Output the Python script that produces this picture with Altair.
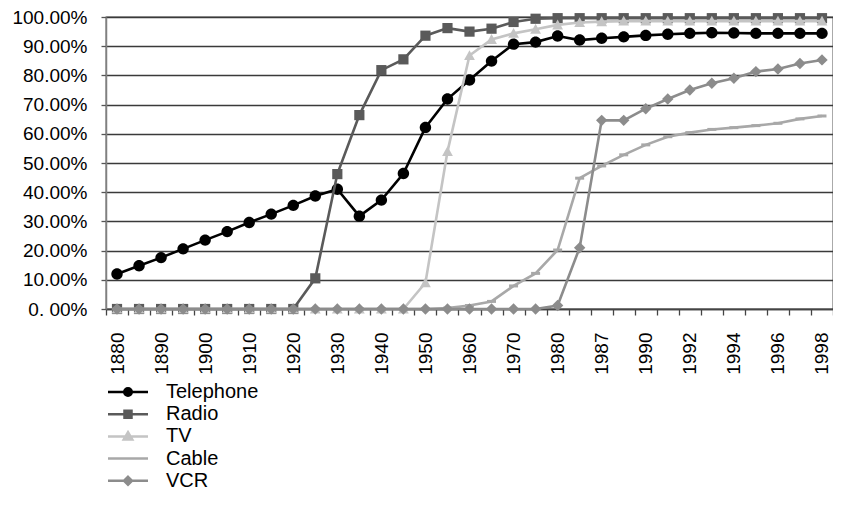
import altair as alt
import pandas as pd

# ---------------- data ----------------
categories = ["1880", "1885", "1890", "1895", "1900", "1905", "1910", "1915", "1920",
              "1925", "1930", "1935", "1940", "1945", "1950", "1955", "1960", "1965",
              "1970", "1975", "1980", "1985", "1987", "1988", "1990", "1991", "1992",
              "1993", "1994", "1995", "1996", "1997", "1998"]
shown_labels = ["1880", "1890", "1900", "1910", "1920", "1930", "1940", "1950", "1960",
                "1970", "1980", "1987", "1990", "1992", "1994", "1996", "1998"]
y_ticks = [0.0, 0.1, 0.2, 0.3, 0.4, 0.5, 0.6, 0.7, 0.8, 0.9, 1.0]

series_names = ["Telephone", "Radio", "TV", "Cable", "VCR"]

telephone = [12.0, 14.8, 17.6, 20.6, 23.6, 26.5, 29.6, 32.5, 35.5, 38.7, 41.0, 31.8,
             37.3, 46.4, 62.2, 71.9, 78.4, 84.9, 90.7, 91.4, 93.5, 92.1, 92.7, 93.2,
             93.7, 94.1, 94.4, 94.6, 94.5, 94.4, 94.4, 94.4, 94.4]
radio = [0, 0, 0, 0, 0, 0, 0, 0, 0,
         10.5, 46.2, 66.4, 81.8, 85.5, 93.6, 96.2, 95.0, 96.0, 98.3, 99.4, 99.6,
         99.6, 99.6, 99.6, 99.6, 99.6, 99.6, 99.6, 99.6, 99.6, 99.6, 99.6, 99.6]
tv = [0, 0, 0, 0, 0, 0, 0, 0, 0, 0, 0, 0, 0, 0,
      9.0, 53.9, 86.8, 92.3, 94.4, 95.8, 97.3,
      98.1, 98.4, 98.6, 98.6, 98.6, 98.6, 98.6, 98.6, 98.6, 98.6, 98.6, 98.6]
cable = [0, 0, 0, 0, 0, 0, 0, 0, 0, 0, 0, 0, 0, 0, 0,
         0.3, 1.2, 2.6, 7.9, 12.2, 20.2,
         44.8, 49.0, 52.8, 56.2, 59.0, 60.4, 61.5, 62.1, 62.8, 63.6, 65.1, 66.1]
vcr = [0, 0, 0, 0, 0, 0, 0, 0, 0, 0, 0, 0, 0, 0, 0, 0, 0, 0, 0, 0,
       1.2, 21.0, 64.6, 64.6, 68.6, 71.9, 75.0, 77.3, 79.0, 81.3, 82.2, 84.1, 85.3]

series_values = [telephone, radio, tv, cable, vcr]
series_colors = ["#000000", "#5a5a5a", "#c4c4c4", "#a8a8a8", "#8c8c8c"]

# marker shapes on the plot (unit paths)
chart_shapes = [
    "M0.95,0A0.95,0.95,0,1,1,-0.95,0A0.95,0.95,0,1,1,0.95,0Z",
    "M-0.85,-0.85H0.85V0.85H-0.85Z",
    "M0,-0.9L0.9,0.75L-0.9,0.75Z",
    "M-0.75,-0.25H0.75V0.25H-0.75Z",
    "M0,-0.95L0.95,0L0,0.95L-0.95,0Z",
]
# legend symbols: a short line with the marker in the middle
legend_shapes = [
    "M-4,0H4M0.75,0A0.75,0.75,0,1,1,-0.75,0A0.75,0.75,0,1,1,0.75,0Z",
    "M-4,0H4M-0.7,-0.7H0.7V0.7H-0.7Z",
    "M-4,0H4M0,-0.85L0.85,0.6L-0.85,0.6Z",
    "M-4,0H4",
    "M-4,0H4M0,-0.8L0.8,0L0,0.8L-0.8,0Z",
]

rows = []
for name, vals in zip(series_names, series_values):
    for c, v in zip(categories, vals):
        rows.append({"year": c, "series": name, "value": v / 100.0})
df = pd.DataFrame(rows)

FONT = "Liberation Sans"

shown_js = "[" + ",".join("'" + s + "'" for s in shown_labels) + "]"

x_enc = alt.X(
    "year:N",
    sort=categories,
    bandPosition=0.5,
    scale=alt.Scale(type="band", domain=categories, paddingInner=0, paddingOuter=0),
    axis=alt.Axis(
        title=None, labelAngle=270, grid=False, tickBand="extent",
        labelExpr="indexof(" + shown_js + ", datum.label) >= 0 ? datum.label : ''",
        labelOverlap=False, labelFont=FONT, labelFontSize=19, labelColor="#000000",
        labelPadding=17, tickSize=6, tickColor="#444444", tickWidth=1.3,
        domainColor="#444444", domainWidth=1.3,
    ),
)
y_enc = alt.Y(
    "value:Q",
    scale=alt.Scale(domain=[0, 1], nice=False, zero=True),
    axis=alt.Axis(
        title=None, values=y_ticks, grid=True, gridColor="#3a3a3a", gridWidth=1.3,
        labelExpr="datum.value == 0 ? '0. 00%' : format(datum.value, '.2%')",
        labelFont=FONT, labelFontSize=19, labelColor="#000000", labelPadding=14,
        tickSize=5, tickColor="#555555", tickWidth=1.3,
        domainColor="#808080", domainWidth=1.5,
    ),
)

layers = []
for name, color, shp in zip(series_names, series_colors, chart_shapes):
    sub = alt.Chart(df).transform_filter(alt.datum.series == name)
    layers.append(sub.mark_line(color=color, strokeWidth=2.6).encode(x=x_enc, y=y_enc))
    layers.append(
        sub.mark_point(shape=shp, filled=True, color=color, opacity=1, size=144)
        .encode(x=x_enc, y=y_enc)
    )

legend_def = alt.Legend(
    title=None, orient="none", legendX=12, legendY=365,
    symbolSize=100, symbolStrokeWidth=2.5, symbolOpacity=1,
    labelFont=FONT, labelFontSize=20, labelColor="#000000",
    rowPadding=2.2, labelOffset=28,
)
color_scale = alt.Scale(domain=series_names, range=series_colors)
legend_layer = (
    alt.Chart(df)
    .transform_filter("datum.value < 0")
    .mark_point(filled=True, strokeWidth=2.5, opacity=1)
    .encode(
        x=x_enc,
        y=y_enc,
        fill=alt.Fill("series:N", scale=color_scale, legend=legend_def),
        stroke=alt.Stroke("series:N", scale=color_scale, legend=legend_def),
        shape=alt.Shape("series:N", scale=alt.Scale(domain=series_names, range=legend_shapes),
                        legend=legend_def),
    )
)

chart = (
    alt.layer(*layers, legend_layer)
    .properties(
        width=727, height=292,
        autosize=alt.AutoSizeParams(type="none"),
        padding={"left": 98, "top": 9, "right": 0, "bottom": 185},
        background="#ffffff",
    )
    .configure_view(stroke="#444444", strokeWidth=1.3)
)

chart.save("out.html", embed_options={"renderer": "svg", "actions": False})
